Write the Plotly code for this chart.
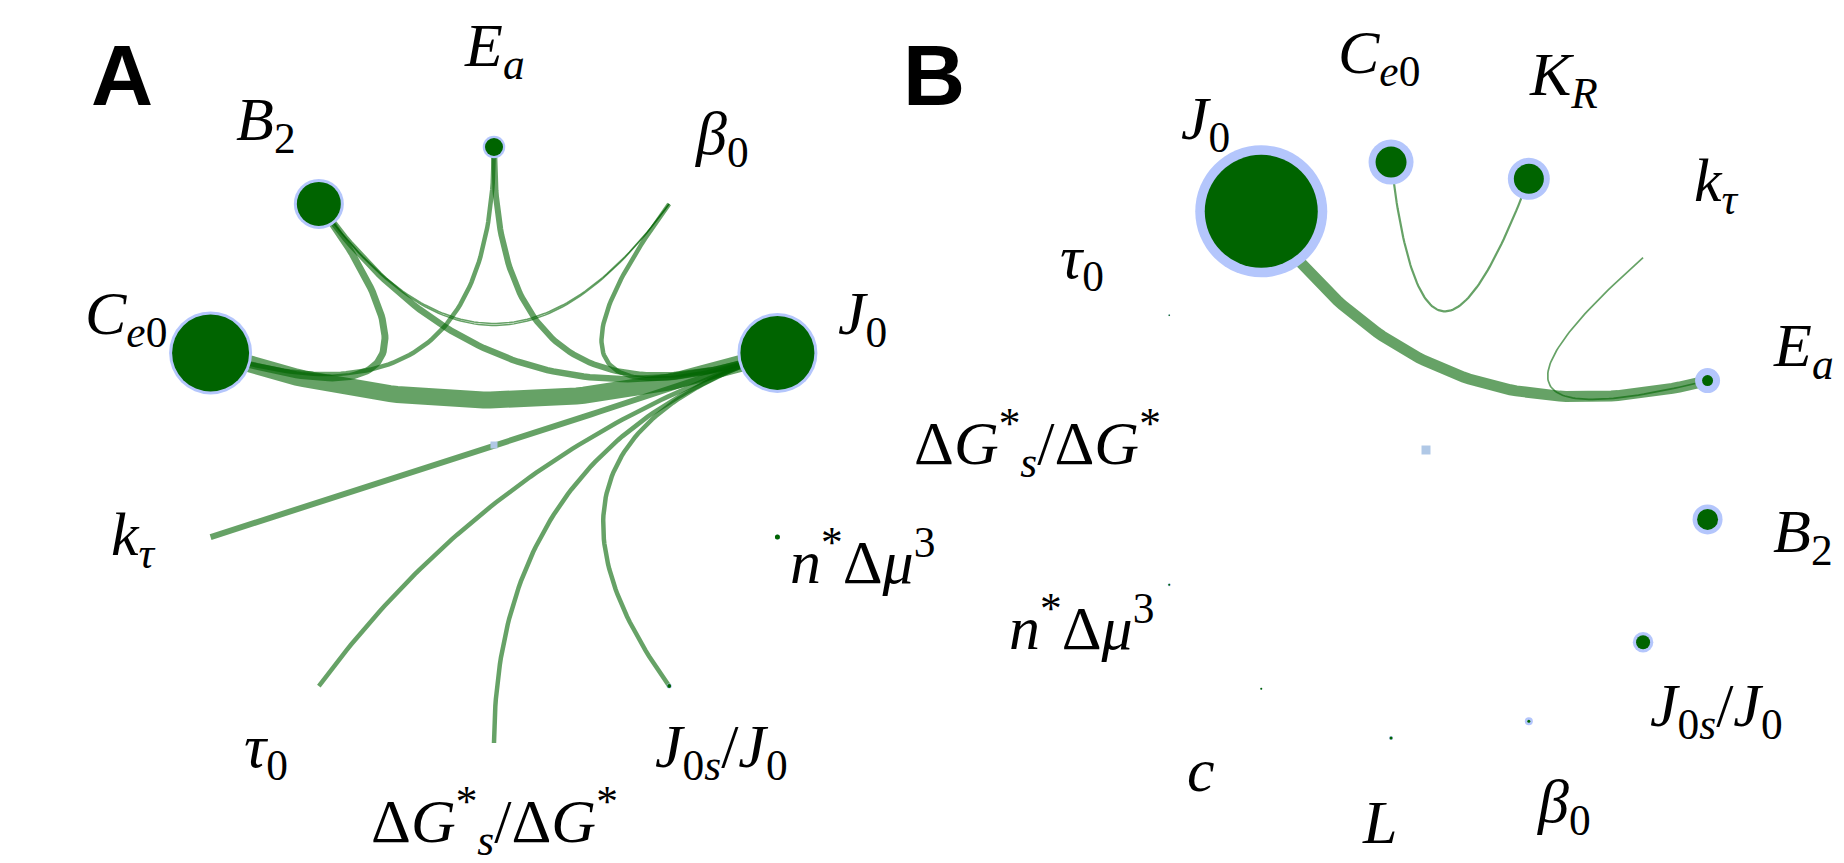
import numpy as np
import plotly.graph_objects as go

W, H = 1844, 863

# ---------------- Panel A ----------------
a_names = ["Ea", "B2", "Ce0", "ktau", "tau0", "dGs", "J0s", "nmu3", "J0", "beta0"]
a_strength = [0.18, 0.44, 0.77, 0.0, 0.0, 0.0, 0.04, 0.05, 0.74, 0.0]
a_spread = [0.045, 0.06, 0.06, 0.0, 0.0, 0.0, 0.01, 0.0, 0.06, 0.0]
a_edge_src = ["Ce0", "B2", "B2", "Ea", "Ea", "beta0", "B2", "beta0", "ktau", "tau0", "dGs", "J0s"]
a_edge_dst = ["J0", "Ce0", "J0", "Ce0", "J0", "J0", "beta0", "B2", "J0", "J0", "J0", "J0"]
a_edge_w = [0.17, 0.07, 0.065, 0.045, 0.06, 0.045, 0.015, 0.015, 0.06, 0.045, 0.045, 0.045]

# ---------------- Panel B ----------------
b_names = ["dGs", "tau0", "J0", "Ce0", "KR", "ktau", "Ea", "B2", "J0s", "beta0", "L", "c", "nmu3"]
b_strength = [0.0, 0.015, 1.13, 0.31, 0.30, 0.0, 0.11, 0.21, 0.14, 0.03, 0.03, 0.02, 0.02]
b_spread = [0.0, 0.005, 0.19, 0.14, 0.12, 0.0, 0.14, 0.09, 0.065, 0.05, 0.01, 0.0, 0.01]
b_edge_src = ["J0", "Ce0", "ktau"]
b_edge_dst = ["Ea", "KR", "Ea"]
b_edge_w = [0.11, 0.022, 0.017]

labels = {
    "Ea": "<i>E</i><sub><i>a</i></sub>",
    "B2": "<i>B</i><sub>2</sub>",
    "Ce0": "<i>C</i><sub><i>e</i>0</sub>",
    "ktau": "<i>k</i><sub><i>τ</i></sub>",
    "tau0": "<i>τ</i><sub>0</sub>",
    "dGs": "Δ<i>G</i><sup>*</sup><sub><i>s</i></sub>/Δ<i>G</i><sup>*</sup>",
    "J0s": "<i>J</i><sub>0<i>s</i></sub>/<i>J</i><sub>0</sub>",
    "nmu3": "<i>n</i><sup>*</sup>Δ<i>μ</i><sup>3</sup>",
    "J0": "<i>J</i><sub>0</sub>",
    "beta0": "<i>β</i><sub>0</sub>",
    "KR": "<i>K</i><sub><i>R</i></sub>",
    "L": "<i>L</i>",
    "c": "<i>c</i>",
}
# small per-label text nudges (px, screen up is positive y)
a_nudge = {"ktau": (8, 18), "beta0": (0, -14), "dGs": (0, 4)}
b_nudge = {"J0s": (0, -10), "L": (0, 6), "c": (-4, -8)}

NODE_SCALE = 100.0   # strength -> marker diameter (px)
EDGE_SCALE = 100.0   # weight -> line width (px)
CORE = "#006400"
HALO = "#b4c6fc"
EDGE = "rgba(0,100,0,0.6)"
LABEL_FONT = dict(family="Liberation Serif", size=62, color="black")

fig = go.Figure()


def circle_layout(names, cx, cy, r, start_deg, step_deg):
    ang = np.deg2rad(start_deg + step_deg * np.arange(len(names)))
    xs = cx + r * np.cos(ang)
    ys = cy - r * np.sin(ang)
    return {n: (x, y) for n, x, y in zip(names, xs, ys)}, ang


def draw_panel(names, strength, spread, src, dst, wts, cx, cy, r, start_deg, step_deg,
               hub_size, label_ring, nudge):
    pos, ang = circle_layout(names, cx, cy, r, start_deg, step_deg)
    t = np.linspace(0, 1, 80)[:, None]
    centre = np.array([cx, cy])
    # edges: quadratic Bezier curves bundled through the circle centre
    for s, d, w in zip(src, dst, wts):
        p0 = np.array(pos[s])
        p2 = np.array(pos[d])
        v = p2 - p0
        perp = np.array([-v[1], v[0]]) / (np.hypot(*v) + 1e-9)
        ctrl = centre + 2.0 * perp
        pts = (1 - t) ** 2 * p0 + 2 * (1 - t) * t * ctrl + t ** 2 * p2
        fig.add_trace(go.Scatter(x=pts[:, 0], y=pts[:, 1], mode="lines",
                                 line=dict(color=EDGE, width=w * EDGE_SCALE),
                                 hoverinfo="skip", showlegend=False))
    # hub marker at the centre
    fig.add_trace(go.Scatter(x=[cx], y=[cy], mode="markers",
                             marker=dict(symbol="square", size=hub_size, color="#b0c8e6",
                                         opacity=1, line=dict(width=0)),
                             hoverinfo="skip", showlegend=False))
    xs = [pos[n][0] for n in names]
    ys = [pos[n][1] for n in names]
    halo = [(a + b) * NODE_SCALE for a, b in zip(strength, spread)]
    core = [a * NODE_SCALE for a in strength]
    fig.add_trace(go.Scatter(x=xs, y=ys, mode="markers",
                             marker=dict(size=halo, color=HALO, opacity=1, line=dict(width=0)),
                             hoverinfo="skip", showlegend=False))
    fig.add_trace(go.Scatter(x=xs, y=ys, mode="markers",
                             marker=dict(size=core, color=CORE, opacity=1, line=dict(width=0)),
                             hoverinfo="skip", showlegend=False))
    # labels on an outer ring
    rl = label_ring * r
    for n, a in zip(names, ang):
        dx, dy = nudge.get(n, (0, 0))
        fig.add_annotation(x=cx + rl * np.cos(a), y=cy - rl * np.sin(a), text=labels[n],
                           showarrow=False, xanchor="center", yanchor="middle",
                           xshift=dx, yshift=8 + dy, font=LABEL_FONT)


draw_panel(a_names, a_strength, a_spread, a_edge_src, a_edge_dst, a_edge_w,
           494, 445, 298, 90, 36, 7, 1.3, a_nudge)
draw_panel(b_names, b_strength, b_spread, b_edge_src, b_edge_dst, b_edge_w,
           1426, 450, 290, 180, -360 / 13, 9, 1.34, b_nudge)

for letter, x in (("A", 122), ("B", 934)):
    fig.add_annotation(x=x, y=75, text=f"<b>{letter}</b>", showarrow=False,
                       xanchor="center", yanchor="middle",
                       font=dict(family="Liberation Sans", size=86, color="black"))

fig.update_layout(
    width=W, height=H, autosize=False,
    margin=dict(l=0, r=0, t=0, b=0),
    paper_bgcolor="white", plot_bgcolor="white",
    xaxis=dict(range=[0, W], visible=False, fixedrange=True),
    yaxis=dict(range=[H, 0], visible=False, fixedrange=True),
)

fig.write_html("out.html")
